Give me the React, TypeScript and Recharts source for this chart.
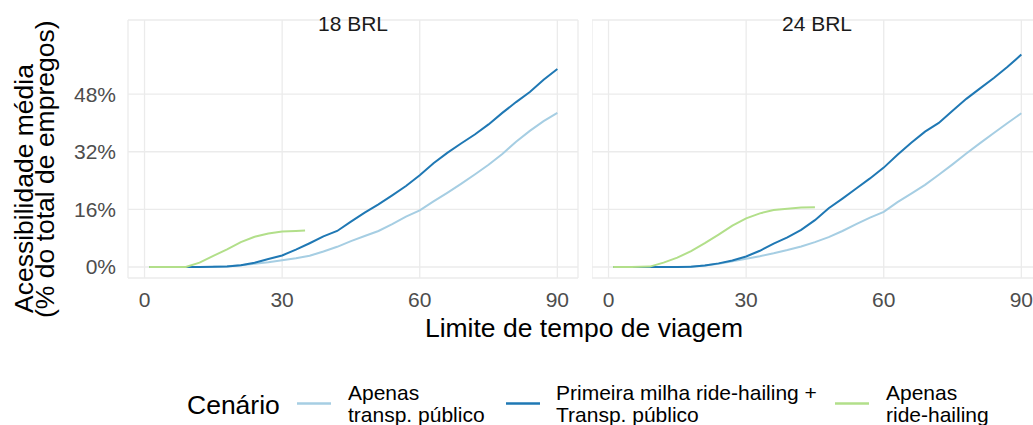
import React from "react";
import { LineChart, Line, XAxis, YAxis, CartesianGrid } from "recharts";

// minutes used for the two transit scenarios
const minutes = [1, 3, 6, 9, 12, 15, 18, 21, 24, 27, 30, 33, 36, 39, 42, 45, 48, 51, 54, 57, 60, 63, 66, 69, 72, 75, 78, 81, 84, 87, 90];

// 18 BRL
const transit18 = [0, 0, 0, 0, 0, 0.05, 0.2, 0.5, 0.9, 1.3, 1.9, 2.4, 3.1, 4.3, 5.6, 7.2, 8.6, 10.0, 11.9, 14.0, 15.7, 18.2, 20.6, 23.1, 25.7, 28.4, 31.4, 34.8, 37.8, 40.5, 42.8];
const firstMile18 = [0, 0, 0, 0, 0, 0.05, 0.15, 0.5, 1.2, 2.2, 3.2, 4.8, 6.6, 8.5, 10.0, 12.6, 15.1, 17.4, 19.9, 22.5, 25.5, 28.8, 31.7, 34.3, 36.8, 39.6, 42.8, 45.8, 48.6, 52.0, 55.0];
const rideMinutes18 = [1, 5, 9, 12, 15, 18, 21, 24, 27, 30, 33, 35];
const rideOnly18 = [0, 0, 0, 1.2, 3.1, 4.9, 6.9, 8.4, 9.3, 9.85, 10.0, 10.1];

// 24 BRL
const transit24 = [0, 0, 0, 0, 0, 0, 0.1, 0.4, 0.9, 1.6, 2.3, 3.0, 3.8, 4.7, 5.7, 6.9, 8.3, 10.0, 11.9, 13.7, 15.3, 18.0, 20.4, 22.8, 25.6, 28.5, 31.5, 34.4, 37.2, 40.0, 42.7];
const firstMile24 = [0, 0, 0, 0, 0, 0, 0.05, 0.4, 1.0, 1.8, 2.9, 4.5, 6.5, 8.2, 10.3, 13.0, 16.3, 19.0, 21.8, 24.6, 27.6, 31.2, 34.5, 37.6, 40.0, 43.4, 46.7, 49.6, 52.5, 55.6, 59.0];
const rideMinutes24 = [1, 5, 9, 12, 15, 18, 21, 24, 27, 30, 33, 36, 39, 42, 45];
const rideOnly24 = [0, 0, 0.1, 1.2, 2.6, 4.4, 6.6, 9.0, 11.5, 13.5, 14.9, 15.8, 16.2, 16.5, 16.6];

const xTicks = [0, 30, 60, 90];
const yTicks = [0, 16, 32, 48];
const legendLabels = [
  ["Apenas", "transp. público"],
  ["Primeira milha ride-hailing +", "Transp. público"],
  ["Apenas", "ride-hailing"],
];

const COLORS = ["#a6cee3", "#1f78b4", "#b2df8a"];
const FONT = "'Liberation Sans', Arial, sans-serif";
const tickStyle = { fill: "#4d4d4d", fontSize: 21, fontFamily: FONT };

type PanelProps = {
  transit: number[];
  firstMile: number[];
  rideMinutes: number[];
  rideOnly: number[];
  showYAxis: boolean;
};

const Panel = ({ transit, firstMile, rideMinutes, rideOnly, showYAxis }: PanelProps) => {
  const rows = minutes.map((t, i) => ({ t, transit: transit[i], firstMile: firstMile[i] }));
  const rideRows = rideMinutes.map((t, i) => ({ t, ride: rideOnly[i] }));
  return (
    <LineChart
      width={showYAxis ? 590 : 450}
      height={320}
      data={rows}
      margin={{ top: 20, right: showYAxis ? 12 : 0, left: 0, bottom: 0 }}
    >
      <CartesianGrid stroke="#ebebeb" strokeWidth={1.3} />
      <XAxis
        dataKey="t"
        type="number"
        domain={[-3.6, 94.5]}
        ticks={xTicks}
        interval={0}
        allowDataOverflow
        axisLine={false}
        tickLine={false}
        tickSize={0}
        tickMargin={14}
        height={42}
        tick={tickStyle}
      />
      <YAxis
        type="number"
        domain={[-3.06, 68.6]}
        ticks={yTicks}
        interval={0}
        allowDataOverflow
        hide={!showYAxis}
        width={showYAxis ? 128 : 0}
        axisLine={false}
        tickLine={false}
        tickSize={0}
        tickMargin={12}
        tickFormatter={(v) => `${v}%`}
        tick={tickStyle}
      />
      <Line dataKey="transit" type="linear" stroke={COLORS[0]} strokeWidth={2} dot={false} isAnimationActive={false} />
      <Line dataKey="firstMile" type="linear" stroke={COLORS[1]} strokeWidth={2} dot={false} isAnimationActive={false} />
      <Line data={rideRows} dataKey="ride" type="linear" stroke={COLORS[2]} strokeWidth={2} dot={false} isAnimationActive={false} />
    </LineChart>
  );
};

const legendKeys = [
  { x: 297, textX: 348 },
  { x: 506, textX: 556 },
  { x: 835, textX: 886 },
];

export default function App() {
  return (
    <div
      style={{
        position: "absolute",
        left: 0,
        top: 0,
        width: 1033,
        height: 425,
        overflow: "hidden",
        background: "#fff",
        fontFamily: FONT,
      }}
    >
      <div style={{ position: "absolute", left: 0, top: 0 }}>
        <Panel transit={transit18} firstMile={firstMile18} rideMinutes={rideMinutes18} rideOnly={rideOnly18} showYAxis />
      </div>
      <div style={{ position: "absolute", left: 592, top: 0 }}>
        <Panel transit={transit24} firstMile={firstMile24} rideMinutes={rideMinutes24} rideOnly={rideOnly24} showYAxis={false} />
      </div>
      <svg width={1033} height={425} style={{ position: "absolute", left: 0, top: 0, pointerEvents: "none" }}>
        <g fontFamily={FONT}>
          <text x={353} y={30.5} fontSize={21} fill="#1a1a1a" textAnchor="middle">18 BRL</text>
          <text x={817} y={30.5} fontSize={21} fill="#1a1a1a" textAnchor="middle">24 BRL</text>
          <text x={584} y={337} fontSize={26.5} fill="#000" textAnchor="middle">Limite de tempo de viagem</text>
          <text transform="translate(33,313) rotate(-90)" fontSize={26.5} fill="#000">Acessibilidade média</text>
          <text transform="translate(54,318) rotate(-90)" fontSize={26.5} fill="#000">(% do total de empregos)</text>
          <text x={187} y={414} fontSize={26.5} fill="#000">Cenário</text>
          {legendKeys.map((k, i) => (
            <g key={i}>
              <line x1={k.x} x2={k.x + 34} y1={403.5} y2={403.5} stroke={COLORS[i]} strokeWidth={2.5} />
              <text x={k.textX} y={400} fontSize={21} fill="#000">{legendLabels[i][0]}</text>
              <text x={k.textX} y={422} fontSize={21} fill="#000">{legendLabels[i][1]}</text>
            </g>
          ))}
        </g>
      </svg>
    </div>
  );
}
